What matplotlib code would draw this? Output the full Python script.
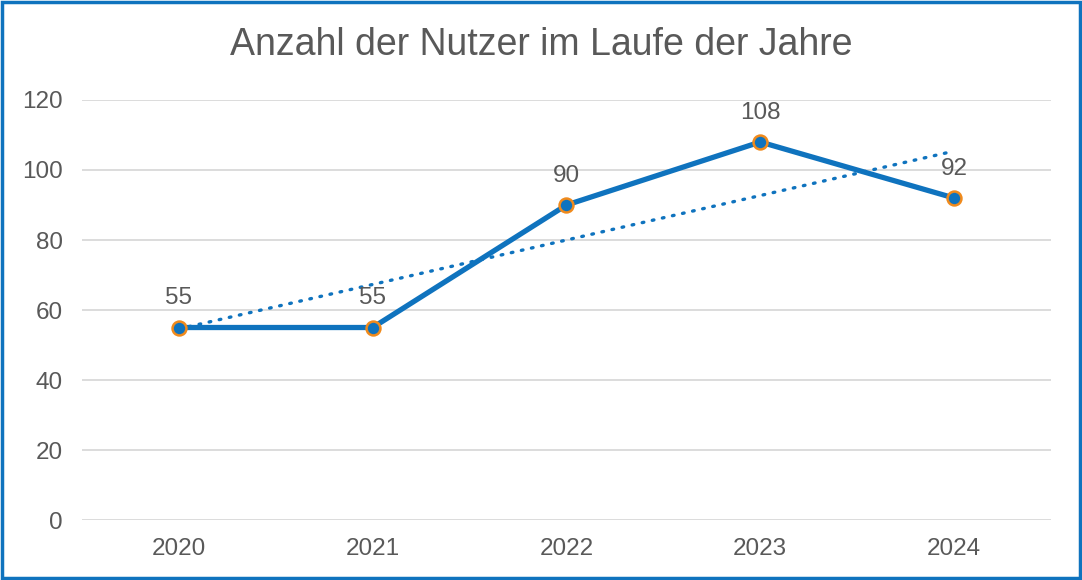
import numpy as np
import matplotlib.pyplot as plt
from matplotlib.patches import Rectangle

plt.rcParams['font.family'] = ['Liberation Sans', 'DejaVu Sans']

# daten
jahre = ['2020', '2021', '2022', '2023', '2024']
nutzer = [55, 55, 90, 108, 92]
y_ticks = [0, 20, 40, 60, 80, 100, 120]

blau = '#0f73be'
orange = '#f08a1c'
grau = '#595959'

fig = plt.figure(figsize=(10.82, 5.80), dpi=100)
ax = fig.add_axes([0.0758, 0.1034, 0.8955, 0.7242])

x = np.arange(len(jahre))

# lineare trendlinie
k, q = np.polyfit(x, nutzer, 1)
ax.plot(x, k * x + q, color=blau, linewidth=2.4, linestyle=(0, (0.5, 2.6)),
        dash_capstyle='round', zorder=2)

ax.plot(x, nutzer, color=blau, linewidth=3.8, marker='o', markersize=10,
        markerfacecolor=blau, markeredgecolor=orange, markeredgewidth=1.8, zorder=3)

for xi, yi in zip(x, nutzer):
    ax.annotate(str(yi), (xi, yi), xytext=(0, 13), textcoords='offset points',
                ha='center', va='bottom', fontsize=17.5, color=grau)

ax.set_xlim(-0.5, len(jahre) - 0.5)
ax.set_ylim(0, 120)
ax.set_xticks(x)
ax.set_xticklabels(jahre)
ax.set_yticks(y_ticks)
ax.tick_params(axis='both', length=0, labelsize=17.5, labelcolor=grau)
ax.tick_params(axis='y', pad=14)
ax.tick_params(axis='x', pad=13)
ax.grid(axis='y', color='#d9d9d9', linewidth=1.3)
ax.set_axisbelow(True)
for s in ax.spines.values():
    s.set_visible(False)

fig.text(0.5, 0.922, 'Anzahl der Nutzer im Laufe der Jahre', ha='center', va='center',
         fontsize=27, color=grau)

fig.patches.append(Rectangle((0.002, 0.003), 0.996, 0.994, transform=fig.transFigure,
                             fill=False, edgecolor=blau, linewidth=2.5))

fig.savefig('out.png', dpi=100)
